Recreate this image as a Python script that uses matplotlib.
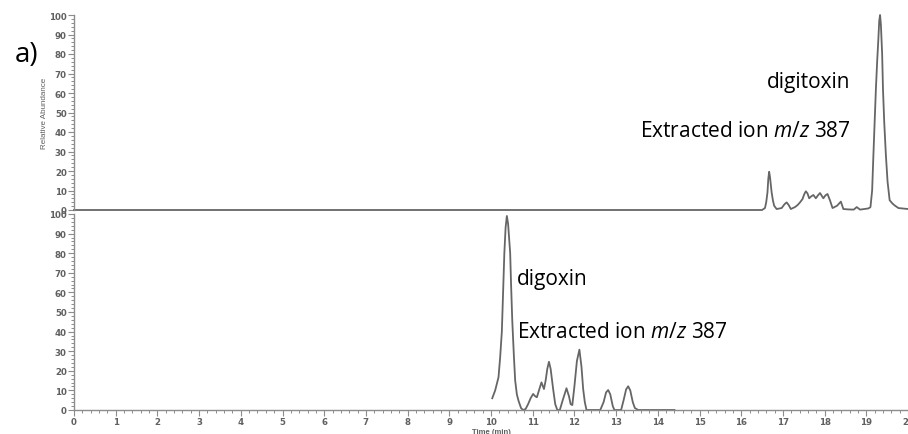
import matplotlib
matplotlib.use("Agg")
import matplotlib.pyplot as plt
from matplotlib.ticker import MultipleLocator

# ---- data -------------------------------------------------------------
# Upper trace: extracted ion m/z 387, digitoxin sample (time in min, rel. abundance %)
top_time = [0.00, 16.50, 16.57, 16.60, 16.63, 16.65, 16.67, 16.69, 16.71, 16.73,
            16.76, 16.79, 16.85, 16.97, 17.04, 17.09, 17.14, 17.19, 17.29, 17.35,
            17.41, 17.47, 17.51, 17.55, 17.59, 17.63, 17.68, 17.73, 17.79, 17.84,
            17.89, 17.97, 18.02, 18.07, 18.13, 18.19, 18.30, 18.39, 18.45, 18.57,
            18.70, 18.77, 18.85, 19.05, 19.10, 19.14, 19.17, 19.20, 19.23, 19.26,
            19.29, 19.31, 19.33, 19.35, 19.38, 19.40, 19.43, 19.47, 19.51, 19.56,
            19.62, 19.67, 19.77, 20.00]
top_abund = [0.0, 0.0, 1.0, 4.0, 9.0, 16.0, 19.6, 17.0, 13.0, 9.0,
             5.0, 2.2, 0.5, 1.0, 3.0, 3.9, 2.5, 0.5, 1.5, 2.5,
             3.9, 5.6, 8.0, 9.6, 8.5, 6.0, 7.0, 7.7, 6.0, 7.5,
             8.7, 6.0, 7.5, 8.2, 4.9, 1.0, 2.2, 4.3, 0.5, 0.3,
             0.2, 1.5, 0.2, 0.8, 1.5, 10.0, 28.0, 45.0, 62.0, 76.0,
             88.0, 97.0, 100.0, 95.0, 80.0, 62.0, 45.0, 28.0, 14.5, 5.0,
             3.5, 2.5, 1.0, 0.5]

# Lower trace: extracted ion m/z 387, digoxin sample
bot_time = [10.03, 10.10, 10.18, 10.22, 10.26, 10.29, 10.32, 10.35, 10.38, 10.41,
            10.46, 10.48, 10.51, 10.55, 10.58, 10.62, 10.66, 10.72, 10.77, 10.83,
            10.89, 10.95, 11.01, 11.06, 11.10, 11.15, 11.21, 11.27, 11.31, 11.35,
            11.39, 11.43, 11.49, 11.54, 11.59, 11.65, 11.72, 11.81, 11.87, 11.91,
            11.95, 12.00, 12.06, 12.12, 12.17, 12.21, 12.25, 12.29, 12.62, 12.70,
            12.76, 12.81, 12.86, 12.92, 12.96, 13.12, 13.18, 13.24, 13.29, 13.34,
            13.40, 13.45, 13.53, 14.40]
bot_abund = [6.0, 10.0, 16.7, 27.0, 40.0, 60.0, 80.0, 93.0, 99.0, 95.0,
             80.0, 65.0, 45.6, 27.0, 15.0, 8.0, 4.7, 1.0, 0.0, 0.5,
             3.0, 6.0, 8.2, 7.0, 6.5, 10.0, 14.1, 10.7, 15.0, 21.0,
             24.6, 21.0, 10.7, 3.0, 0.0, 0.0, 5.0, 11.1, 7.0, 3.0,
             2.5, 12.0, 25.0, 30.8, 22.0, 10.7, 4.0, 0.0, 0.0, 4.0,
             9.0, 10.2, 8.0, 2.0, 0.0, 0.0, 5.0, 10.5, 12.1, 10.0,
             4.0, 1.0, 0.0, 0.0]

x_ticks = list(range(0, 21))
y_ticks = list(range(0, 101, 10))

# ---- style ------------------------------------------------------------
plt.rcParams["mathtext.fontset"] = "custom"
plt.rcParams["mathtext.it"] = "Open Sans:italic"
plt.rcParams["mathtext.rm"] = "Open Sans"

TRACE = "#666666"
AXIS = "#8c8c8c"
TICKTXT = "#606060"
tick_font = dict(family="DejaVu Sans", weight="bold", size=6.2)
note_font = dict(family="Open Sans", size=15, color="black")

W, H = 908, 435
fig = plt.figure(figsize=(W / 100, H / 100), dpi=100)

left = 74 / W
width = 1 - left
ax_top = fig.add_axes([left, (H - 211) / H, width, 195 / H])
ax_bot = fig.add_axes([left, (H - 411) / H, width, 196 / H])


def style_axis(ax, show_x):
    ax.set_xlim(0, 20)
    ax.set_ylim(0, 100)
    for s in ("top", "right"):
        ax.spines[s].set_visible(False)
    ax.spines["left"].set_color(AXIS)
    ax.spines["left"].set_linewidth(1.0)
    ax.set_yticks(y_ticks)
    ax.yaxis.set_minor_locator(MultipleLocator(2))
    ax.tick_params(axis="y", which="major", direction="out", length=4,
                   width=0.8, color=AXIS, pad=1.2)
    ax.tick_params(axis="y", which="minor", direction="out", length=2.5,
                   width=0.7, color=AXIS)
    for lab in ax.get_yticklabels():
        lab.set(**tick_font, color=TICKTXT)
    if show_x:
        ax.spines["bottom"].set_color(AXIS)
        ax.spines["bottom"].set_linewidth(1.0)
        ax.set_xticks(x_ticks)
        ax.xaxis.set_minor_locator(MultipleLocator(0.2))
        ax.tick_params(axis="x", which="major", direction="out", length=4,
                       width=0.8, color=AXIS, pad=1.2)
        ax.tick_params(axis="x", which="minor", direction="out", length=2.5,
                       width=0.7, color=AXIS)
        for lab in ax.get_xticklabels():
            lab.set(**tick_font, color=TICKTXT)
    else:
        ax.spines["bottom"].set_visible(False)
        ax.set_xticks([])


style_axis(ax_top, show_x=False)
style_axis(ax_bot, show_x=True)

ax_top.plot(top_time, top_abund, color=TRACE, lw=1.3, clip_on=False,
            solid_joinstyle="round")
ax_bot.plot(bot_time, bot_abund, color=TRACE, lw=1.3, clip_on=False,
            solid_joinstyle="round")

ax_top.set_ylabel("Relative Abundance", family="Liberation Sans", size=5.8,
                  color=TICKTXT)
ax_top.yaxis.set_label_coords(-26 / (W - 74), 0.5)
ax_bot.set_xlabel("Time (min)", family="Liberation Sans", size=5.6,
                  color=TICKTXT, weight="bold")
ax_bot.xaxis.set_label_coords(0.5, -18 / 196)

# ---- annotations ------------------------------------------------------
fig.text(15 / W, 1 - 62 / H, "a)", family="Open Sans", size=20, color="black",
         va="baseline", ha="left")

ion_label = "Extracted ion $\\mathit{m/z}$ 387"
ax_top.text(18.63, 66, "digitoxin", ha="right", va="center", **note_font)
ax_top.text(18.63, 41, ion_label, ha="right", va="center", **note_font)
ax_bot.text(10.62, 67, "digoxin", ha="left", va="center", **note_font)
ax_bot.text(10.62, 40, ion_label, ha="left", va="center", **note_font)

fig.savefig("out.png", dpi=100)
